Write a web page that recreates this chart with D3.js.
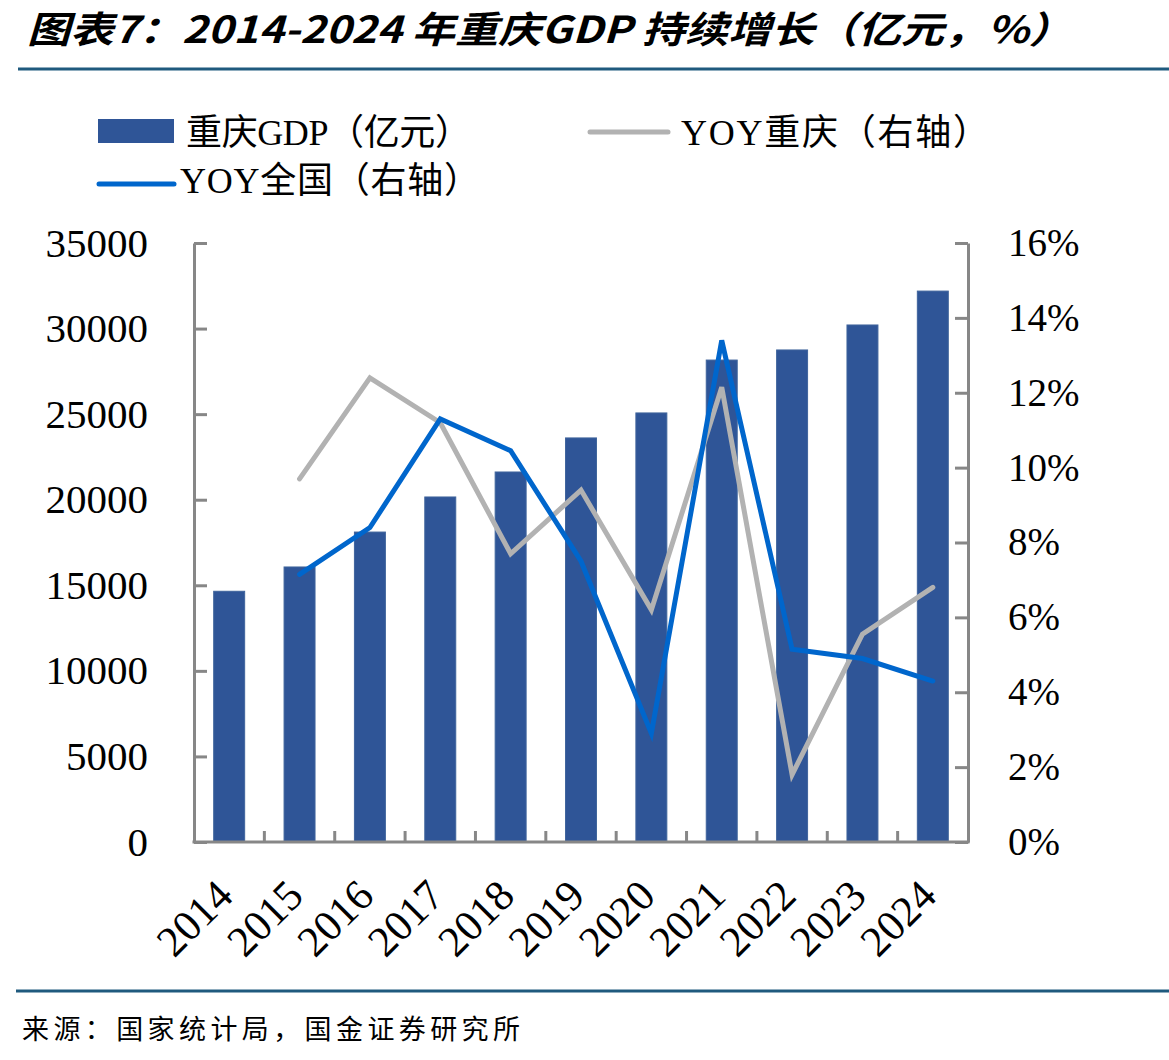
<!DOCTYPE html>
<html>
<head>
  <meta charset="utf-8">
  <title>重庆GDP</title>
  <script src="https://cdn.jsdelivr.net/npm/d3@7"></script>
  <style>
    body { margin: 0; background: #fff; }
    text { font-family: "Liberation Serif", "Noto Sans CJK SC", serif; fill: #000; }
  </style>
</head>
<body>
  <div id="chart"></div>
  <script type="text/javascript">
    // data
    var years = ['2014', '2015', '2016', '2017', '2018', '2019', '2020', '2021', '2022', '2023', '2024'];
    var gdpCQ = [14650, 16070, 18110, 20160, 21620, 23610, 25070, 28160, 28750, 30210, 32190];
    var yoyCQ = [null, 9.7, 12.4, 11.2, 7.7, 9.4, 6.2, 12.15, 1.8, 5.55, 6.8];
    var yoyCN = [null, 7.15, 8.4, 11.3, 10.45, 7.5, 2.9, 13.4, 5.15, 4.9, 4.3];
    var leftTicks = [0, 5000, 10000, 15000, 20000, 25000, 30000, 35000];
    var rightTicks = [0, 2, 4, 6, 8, 10, 12, 14, 16];

    var W = 1169, H = 1060;
    var pL = 194, pR = 968, pT = 243, pB = 842;
    var axisColor = '#878787';

    var svg = d3.select('#chart').append('svg')
      .attr('width', W).attr('height', H);
    svg.append('rect').attr('width', W).attr('height', H).attr('fill', '#fff');

    // title
    svg.append('text')
      .attr('x', 27).attr('y', 43)
      .attr('textLength', 1045).attr('lengthAdjust', 'spacingAndGlyphs')
      .style('font-family', '"Noto Sans CJK SC", sans-serif')
      .style('font-weight', 'bold').style('font-style', 'italic')
      .style('font-size', '37px')
      .text('图表7：2014-2024 年重庆GDP 持续增长（亿元，%）');
    svg.append('line').attr('x1', 18).attr('x2', W).attr('y1', 69).attr('y2', 69)
      .attr('stroke', '#1f5a7e').attr('stroke-width', 3);

    // scales
    var x = d3.scaleBand().domain(years).range([pL, pR]).paddingInner(0).paddingOuter(0);
    var y = d3.scaleLinear().domain([0, 35000]).range([pB, pT]);
    var y2 = d3.scaleLinear().domain([0, 16]).range([pB, pT]);
    var barW = x.bandwidth() * 0.44;

    // bars
    svg.append('g').selectAll('rect').data(gdpCQ).enter().append('rect')
      .attr('x', function(d, i) { return x(years[i]) + (x.bandwidth() - barW) / 2; })
      .attr('y', function(d) { return y(d); })
      .attr('width', barW)
      .attr('height', function(d) { return pB - y(d); })
      .attr('fill', '#2f5597')
      .attr('stroke', '#3f649c').attr('stroke-width', 1);

    // lines
    var line = function(yy) {
      return d3.line()
        .defined(function(d) { return d != null; })
        .x(function(d, i) { return x(years[i]) + x.bandwidth() / 2; })
        .y(function(d) { return y2(d); })(yy);
    };
    svg.append('path').attr('d', line(yoyCQ))
      .attr('fill', 'none').attr('stroke', '#b2b2b2').attr('stroke-width', 5)
      .attr('stroke-linecap', 'round');
    svg.append('path').attr('d', line(yoyCN))
      .attr('fill', 'none').attr('stroke', '#0066cc').attr('stroke-width', 5)
      .attr('stroke-linecap', 'round');

    // left axis
    var gl = svg.append('g').attr('transform', 'translate(' + pL + ',0)')
      .call(d3.axisLeft(y).tickValues(leftTicks).tickFormat(d3.format('d'))
        .tickSizeInner(-13).tickSizeOuter(0).tickPadding(46));
    // right axis
    var gr = svg.append('g').attr('transform', 'translate(' + pR + ',0)')
      .call(d3.axisRight(y2).tickValues(rightTicks).tickFormat(function(d) { return d + '%'; })
        .tickSizeInner(-13).tickSizeOuter(0).tickPadding(40));
    [gl, gr].forEach(function(g) {
      g.select('.domain').attr('stroke', axisColor).attr('stroke-width', 3);
      g.selectAll('.tick line').attr('stroke', axisColor).attr('stroke-width', 3);
      g.selectAll('text').style('font-family', '"Liberation Serif", serif').attr('fill', '#000');
    });
    gl.selectAll('text').style('font-size', '41px');
    gr.selectAll('text').style('font-size', '39px');

    // bottom axis
    var gb = svg.append('g');
    gb.append('line').attr('x1', pL - 1.5).attr('x2', pR + 1.5)
      .attr('y1', pB).attr('y2', pB)
      .attr('stroke', axisColor).attr('stroke-width', 3);
    gb.selectAll('.xt').data(years.slice(1)).enter().append('line')
      .attr('x1', function(d) { return x(d); }).attr('x2', function(d) { return x(d); })
      .attr('y1', pB).attr('y2', pB - 11)
      .attr('stroke', axisColor).attr('stroke-width', 3);
    gb.selectAll('.xl').data(years).enter().append('text')
      .attr('transform', function(d) {
        return 'translate(' + (x(d) + x.bandwidth() / 2 + 6) + ',898) rotate(-45)';
      })
      .attr('text-anchor', 'end')
      .style('font-size', '43px')
      .text(function(d) { return d; });

    // legend
    var lg = svg.append('g').style('font-size', '36px');
    lg.append('rect').attr('x', 98).attr('y', 119).attr('width', 76).attr('height', 24).attr('fill', '#2f5597');
    lg.append('text').attr('x', 186).attr('y', 145)
      .attr('textLength', 285).attr('lengthAdjust', 'spacing').text('重庆GDP（亿元）');
    lg.append('line').attr('x1', 590).attr('x2', 668).attr('y1', 132).attr('y2', 132)
      .attr('stroke', '#b2b2b2').attr('stroke-width', 5).attr('stroke-linecap', 'round');
    lg.append('text').attr('x', 681).attr('y', 145)
      .attr('textLength', 308).attr('lengthAdjust', 'spacing').text('YOY重庆（右轴）');
    lg.append('line').attr('x1', 99).attr('x2', 174).attr('y1', 184).attr('y2', 184)
      .attr('stroke', '#0066cc').attr('stroke-width', 5).attr('stroke-linecap', 'round');
    lg.append('text').attr('x', 180).attr('y', 193)
      .attr('textLength', 300).attr('lengthAdjust', 'spacing').text('YOY全国（右轴）');

    // source
    svg.append('line').attr('x1', 16).attr('x2', W).attr('y1', 991).attr('y2', 991)
      .attr('stroke', '#1f5a7e').attr('stroke-width', 3);
    svg.append('text').attr('x', 22).attr('y', 1039)
      .attr('textLength', 498).attr('lengthAdjust', 'spacing')
      .style('font-size', '27px')
      .text('来源：国家统计局，国金证券研究所');
  </script>
</body>
</html>
